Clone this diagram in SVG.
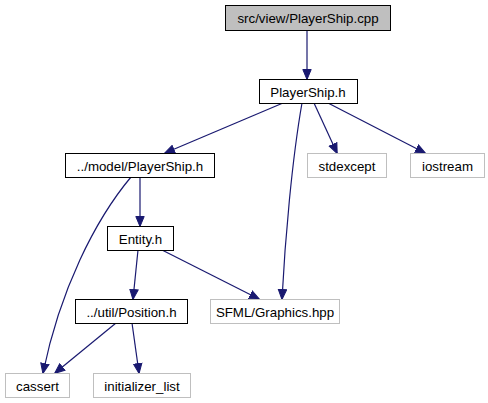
<svg xmlns="http://www.w3.org/2000/svg" width="488" height="403" viewBox="0 0 488 403">
<style>
.n rect{fill:#fff;stroke:#000;stroke-width:1}
.g rect{fill:#fff;stroke:#bfbfbf;stroke-width:1}
text{font-family:"Liberation Sans",Arial,sans-serif;font-size:13.3px;fill:#000;text-anchor:middle}
.e path{fill:none;stroke:#191970;stroke-width:1.2}
</style>
<defs>
<marker id="a" markerWidth="11" markerHeight="10" refX="10" refY="5" orient="auto" markerUnits="userSpaceOnUse" viewBox="0 0 11 10">
<path d="M0.5,0.8 L10.5,5 L0.5,9.2 Z" fill="#191970" stroke="#191970"/>
</marker>
</defs>
<g class="e">
<path d="M307,30 L307,79" marker-end="url(#a)"/>
<path d="M283,103 L165,153" marker-end="url(#a)"/>
<path d="M314,103 L337,153" marker-end="url(#a)"/>
<path d="M328,103 L425,153" marker-end="url(#a)"/>
<path d="M302,103 C292,160 285,240 282,299" marker-end="url(#a)"/>
<path d="M131,177 C95,220 60,290 43,373" marker-end="url(#a)"/>
<path d="M140,177 L140,226" marker-end="url(#a)"/>
<path d="M138,250 L133,299" marker-end="url(#a)"/>
<path d="M162,250 L259,299" marker-end="url(#a)"/>
<path d="M116,323 L55,373" marker-end="url(#a)"/>
<path d="M132,323 L139,373" marker-end="url(#a)"/>
</g>
<g id="cpp" class="n"><rect x="225.5" y="5.5" width="165" height="25" style="fill:#bfbfbf"/><text x="308" y="22.5">src/view/PlayerShip.cpp</text></g>
<g id="playership_h" class="n"><rect x="259.5" y="79.5" width="98" height="24"/><text x="308" y="96.5">PlayerShip.h</text></g>
<g id="model_playership" class="n"><rect x="65.5" y="153.5" width="149" height="24"/><text x="140" y="170.5">../model/PlayerShip.h</text></g>
<g id="stdexcept" class="g"><rect x="307.5" y="153.5" width="79" height="24"/><text x="347" y="170.5">stdexcept</text></g>
<g id="iostream" class="g"><rect x="410.5" y="153.5" width="74" height="24"/><text x="447.5" y="170.5">iostream</text></g>
<g id="entity" class="n"><rect x="107.5" y="226.5" width="66" height="24"/><text x="140.5" y="243.5">Entity.h</text></g>
<g id="position" class="n"><rect x="75.5" y="299.5" width="112" height="24"/><text x="131.5" y="316.5">../util/Position.h</text></g>
<g id="sfml" class="g"><rect x="210.5" y="299.5" width="129" height="24"/><text x="275" y="316.5">SFML/Graphics.hpp</text></g>
<g id="cassert" class="g"><rect x="5.5" y="373.5" width="64" height="24"/><text x="37.5" y="390.5">cassert</text></g>
<g id="initializer_list" class="g"><rect x="93.5" y="373.5" width="97" height="24"/><text x="142" y="390.5">initializer_list</text></g>
</svg>
